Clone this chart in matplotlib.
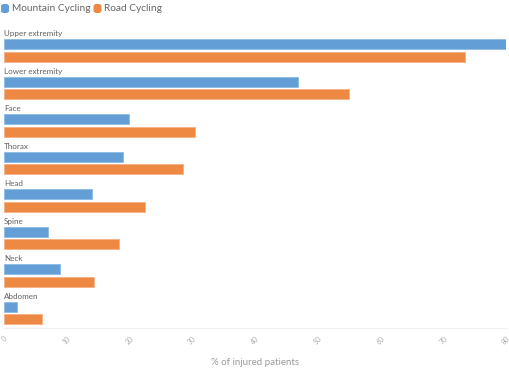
import matplotlib.pyplot as plt
import numpy as np
from matplotlib.patches import FancyBboxPatch

categories = ['Upper extremity', 'Lower extremity', 'Face', 'Thorax', 'Head',
              'Spine', 'Neck', 'Abdomen']
mountain = [80, 46.9, 20.0, 19.0, 14.0, 7.0, 9.0, 2.0]
road = [73.4, 55.0, 30.5, 28.6, 22.4, 18.4, 14.3, 6.1]
series_names = ['Mountain Cycling', 'Road Cycling']
xticks = [0, 10, 20, 30, 40, 50, 60, 70, 80]

blue = '#639fd6'
orange = '#ee8944'

plt.rcParams['font.family'] = ['Lato', 'DejaVu Sans']

fig = plt.figure(figsize=(5.10, 3.68), dpi=100)
ax = fig.add_axes([4 / 510, 1 - 328 / 368, 502 / 510, 300 / 368])

y = np.arange(len(categories))
bar_h = 0.27
ax.barh(y + 0.435, mountain, height=bar_h, color=blue, edgecolor='#8dbbe4', linewidth=0.6)
ax.barh(y + 0.77, road, height=bar_h, color=orange, edgecolor='#f5b185', linewidth=0.6)

for i, name in enumerate(categories):
    ax.text(0, i + 0.15, name, fontsize=5.8, color='#606060', va='center', ha='left')

ax.set_xlim(0, 80)
ax.set_ylim(len(categories), 0)
ax.set_yticks([])
ax.set_xticks(xticks)
ax.set_xticklabels([str(t) for t in xticks], rotation=45, fontsize=5.0, color='#adadad')
ax.tick_params(axis='x', length=0, pad=5)
for side in ['top', 'right', 'left']:
    ax.spines[side].set_visible(False)
ax.spines['bottom'].set_color('#f0f0f0')
ax.spines['bottom'].set_linewidth(0.8)
ax.set_xlabel('% of injured patients', fontsize=7, color='#9a9a9a', labelpad=9)

# legend at top-left, laid out item after item
fig.canvas.draw()
renderer = fig.canvas.get_renderer()
x_px = 1
for name, col in zip(series_names, [blue, orange]):
    fig.patches.append(FancyBboxPatch((x_px / 510, 1 - 13 / 368), 8 / 510, 9 / 368,
                                      boxstyle='round,pad=0,rounding_size=0.006',
                                      transform=fig.transFigure, facecolor=col,
                                      edgecolor='none'))
    t = fig.text((x_px + 11) / 510, 1 - 8.5 / 368, name, fontsize=7.3, color='#666666',
                 va='center', ha='left')
    bb = t.get_window_extent(renderer)
    x_px = bb.x1 + 3

fig.savefig('out.png', dpi=100)
